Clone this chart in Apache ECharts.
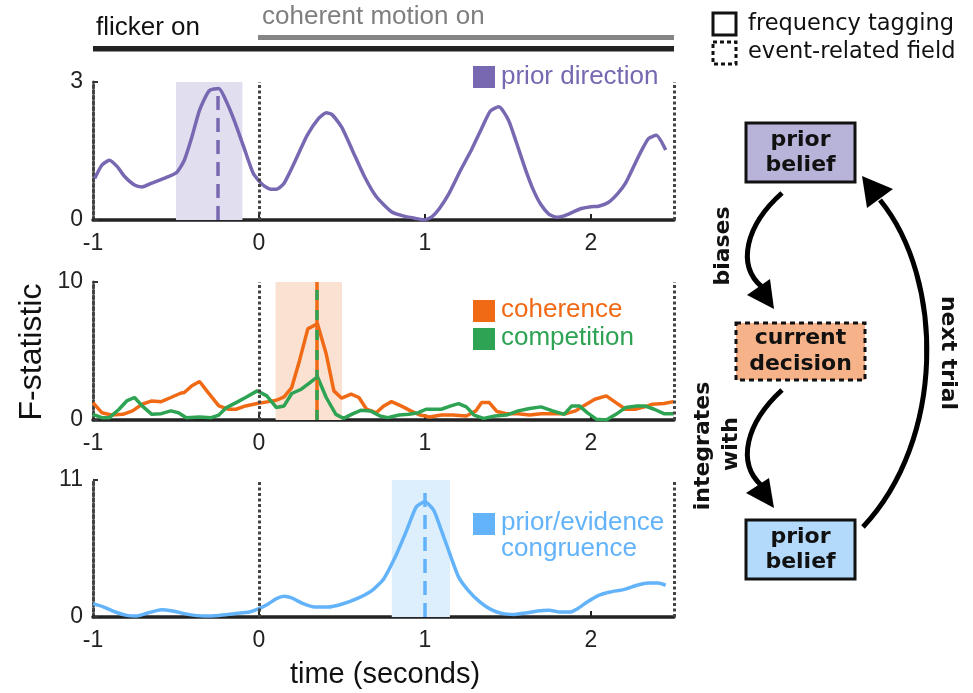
<!DOCTYPE html>
<html><head><meta charset="utf-8">
<script src="https://cdn.jsdelivr.net/npm/echarts@6/dist/echarts.min.js"></script>
<style>html,body{margin:0;padding:0;background:#fff}#c{width:973px;height:693px}</style>
</head><body><div id="c"></div>
<script>
// ---------- data ----------
const xTickValues = [-1, 0, 1, 2];
const yMaxes = [3, 10, 11];

const priorTime = [-0.99,-0.947,-0.901,-0.854,-0.808,-0.75,-0.704,-0.646,-0.554,-0.496,-0.45,-0.404,-0.358,-0.3,-0.242,-0.196,-0.15,-0.092,-0.034,0.024,0.07,0.105,0.151,0.22,0.29,0.359,0.405,0.44,0.498,0.567,0.636,0.706,0.798,0.867,0.937,0.994,1.041,1.087,1.145,1.214,1.283,1.341,1.394,1.445,1.503,1.549,1.607,1.653,1.699,1.746,1.792,1.838,1.896,1.942,2.0,2.046,2.104,2.162,2.208,2.266,2.3,2.346,2.393,2.45];
const priorVals = [0.90,1.19,1.30,1.16,0.94,0.76,0.72,0.80,0.93,1.03,1.30,1.81,2.39,2.81,2.86,2.57,2.17,1.59,1.01,0.76,0.67,0.67,0.80,1.30,1.84,2.21,2.33,2.29,2.02,1.48,0.94,0.51,0.18,0.09,0.04,0.0,0.07,0.25,0.58,1.08,1.55,1.99,2.37,2.46,2.17,1.70,1.08,0.65,0.33,0.13,0.06,0.09,0.18,0.25,0.29,0.30,0.38,0.58,0.80,1.23,1.48,1.77,1.84,1.52];

const cohTime = [-1,-0.947,-0.889,-0.82,-0.762,-0.704,-0.646,-0.589,-0.531,-0.473,-0.45,-0.404,-0.358,-0.311,-0.242,-0.184,-0.138,-0.081,-0.011,0.058,0.105,0.151,0.197,0.244,0.294,0.352,0.405,0.451,0.498,0.555,0.602,0.648,0.706,0.752,0.798,0.856,0.914,0.971,1.029,1.098,1.168,1.249,1.306,1.341,1.387,1.434,1.491,1.561,1.63,1.699,1.769,1.85,1.907,1.954,2.023,2.092,2.15,2.208,2.266,2.323,2.37,2.439,2.497];
const cohVals = [1.26,0.53,0.36,0.41,0.66,1.14,1.38,1.33,1.63,1.94,1.99,2.48,2.79,2.06,1.02,0.78,0.78,1.02,1.19,1.33,1.43,1.67,2.35,4.3,6.6,6.97,4.78,2.11,1.58,1.87,1.63,0.78,0.53,1.02,1.33,1.02,0.66,0.36,0.22,0.36,0.36,0.29,0.66,1.26,1.26,0.61,0.46,0.46,0.36,0.46,0.46,0.46,0.66,1.02,1.5,1.75,1.26,0.78,0.78,0.95,1.14,1.19,1.33];

const compTime = [-1,-0.947,-0.901,-0.843,-0.797,-0.75,-0.704,-0.646,-0.589,-0.531,-0.485,-0.438,-0.358,-0.288,-0.242,-0.196,-0.138,-0.081,-0.011,0.047,0.105,0.151,0.197,0.255,0.301,0.352,0.405,0.463,0.509,0.567,0.613,0.671,0.729,0.775,0.844,0.902,0.96,1.006,1.098,1.156,1.202,1.249,1.295,1.353,1.422,1.491,1.561,1.63,1.699,1.769,1.838,1.884,1.93,1.977,2.034,2.092,2.15,2.208,2.277,2.323,2.381,2.439,2.497];
const compVals = [0.41,0.17,0.17,0.78,1.38,1.63,1.02,0.41,0.46,0.66,0.53,0.17,0.22,0.17,0.36,0.9,1.26,1.63,2.11,1.75,0.9,1.02,1.92,2.23,2.65,3.13,1.63,0.41,0.12,0.46,0.7,0.66,0.29,0.17,0.36,0.41,0.53,0.78,0.78,1.02,1.19,0.95,0.36,0.12,0.29,0.36,0.66,0.83,0.95,0.66,0.41,1.02,1.02,0.53,0.05,0.0,0.41,0.9,1.02,1.02,0.78,0.46,0.46];

const congTime = [-1,-0.935,-0.866,-0.797,-0.739,-0.67,-0.589,-0.519,-0.427,-0.334,-0.242,-0.15,-0.058,0,0.058,0.105,0.151,0.197,0.266,0.336,0.416,0.497,0.59,0.682,0.752,0.821,0.89,0.948,0.999,1.052,1.098,1.156,1.202,1.26,1.33,1.399,1.468,1.538,1.607,1.676,1.746,1.815,1.873,1.919,1.977,2.046,2.115,2.196,2.277,2.346,2.404,2.45];
const congVals = [1.07,0.8,0.4,0.13,0.08,0.32,0.59,0.48,0.21,0.08,0.13,0.27,0.4,0.67,1.07,1.47,1.66,1.53,1.07,0.8,0.8,1.02,1.47,2.14,3.08,4.83,6.97,8.85,9.25,8.58,6.97,4.83,3.22,2.14,1.21,0.59,0.27,0.21,0.32,0.48,0.54,0.4,0.4,0.67,1.21,1.74,2.01,2.2,2.55,2.73,2.73,2.55];

// highlighted windows [start, end] and peak-marker [time, top]
const priorWindow = [-0.5, -0.1];  const priorPeak = [-0.25, 2.86];
const cohWindow = [0.1, 0.5];      const cohPeak = [0.35, 10];
const congWindow = [0.8, 1.15];    const congPeak = [1.0, 10.2];
const onsetTimes = [0, 2.5];

// ---------- build ----------
const zip = (t, v) => t.slice(0, Math.min(t.length, v.length)).map((x, i) => [x, v[i]]);
const SANS = "'Liberation Sans', Arial, Helvetica, sans-serif";
const DV = "'DejaVu Sans', Verdana, sans-serif";
const C = {
  purple: '#7868B2', purpleShade: '#E1DEEF',
  orange: '#F06A16', orangeShade: '#FBE1D1',
  green: '#2EA354',
  blue: '#63B3FA', blueShade: '#DDEEFC'
};
const LW = 3.5;
const DOT = {color: '#444', width: 3, type: [3, 2.5]};
const gridPos = [{top: 82, height: 138}, {top: 282, height: 138}, {top: 480, height: 137}];

function dottedLines() {
  return onsetTimes.map(t => ({xAxis: t, lineStyle: DOT}));
}
function peakLine(p, color, type) {
  const ls = {color: color, width: LW, type: type};
  return [{coord: [p[0], 0], lineStyle: ls}, {coord: [p[0], p[1]], lineStyle: ls}];
}
function mk(data) {
  return {silent: true, symbol: ['none', 'none'], label: {show: false}, animation: false, data: data};
}

const chart = echarts.init(document.getElementById('c'), null, {renderer: 'canvas'});
const option = {
  animation: false,
  backgroundColor: '#fff',
  grid: gridPos.map(g => ({left: 93, right: 299, top: g.top, height: g.height})),
  xAxis: gridPos.map((g, i) => ({
    gridIndex: i, type: 'value', min: -1, max: 2.5, interval: 1,
    axisLine: {show: true, onZero: false, lineStyle: {color: '#222', width: 3.5}},
    axisTick: {show: true, inside: true, length: 6, customValues: [0, 1, 2], lineStyle: {color: '#222', width: 2}},
    axisLabel: {fontSize: 23, color: '#222', margin: 12, fontFamily: SANS, customValues: xTickValues,
      formatter: v => Number.isInteger(v) ? String(v) : ''},
    splitLine: {show: false}
  })),
  yAxis: yMaxes.map((m, i) => ({
    gridIndex: i, type: 'value', min: 0, max: m, interval: m,
    axisLine: {show: true, onZero: false, lineStyle: DOT},
    axisTick: {show: true, inside: true, length: 5, lineStyle: {color: '#333', width: 2}},
    axisLabel: {fontSize: 23, color: '#222', margin: 10, fontFamily: SANS},
    splitLine: {show: false}
  })),
  series: [
    {type: 'line', name: 'prior direction', xAxisIndex: 0, yAxisIndex: 0, data: zip(priorTime, priorVals),
     showSymbol: false, smooth: 0.2, lineStyle: {color: C.purple, width: LW}, itemStyle: {color: C.purple},
     markArea: {silent: true, itemStyle: {color: C.purpleShade}, data: [[{xAxis: priorWindow[0]}, {xAxis: priorWindow[1]}]]},
     markLine: mk(dottedLines().concat([peakLine(priorPeak, C.purple, [14, 8])]))},
    {type: 'line', name: 'coherence', xAxisIndex: 1, yAxisIndex: 1, data: zip(cohTime, cohVals),
     showSymbol: false, lineStyle: {color: C.orange, width: LW}, itemStyle: {color: C.orange},
     markArea: {silent: true, itemStyle: {color: C.orangeShade}, data: [[{xAxis: cohWindow[0]}, {xAxis: cohWindow[1]}]]},
     markLine: mk(dottedLines().concat([peakLine(cohPeak, C.orange, 'solid')]))},
    {type: 'line', name: 'competition', xAxisIndex: 1, yAxisIndex: 1, data: zip(compTime, compVals),
     showSymbol: false, lineStyle: {color: C.green, width: LW}, itemStyle: {color: C.green},
     markLine: mk([peakLine(cohPeak, C.green, [10, 10])])},
    {type: 'line', name: 'prior/evidence congruence', xAxisIndex: 2, yAxisIndex: 2, data: zip(congTime, congVals),
     showSymbol: false, smooth: 0.2, lineStyle: {color: C.blue, width: LW}, itemStyle: {color: C.blue},
     markArea: {silent: true, itemStyle: {color: C.blueShade}, data: [[{xAxis: congWindow[0]}, {xAxis: congWindow[1]}]]},
     markLine: mk(dottedLines().concat([peakLine(congPeak, C.blue, [14, 8])]))}
  ],
  graphic: [
    // stimulus bars
    {type: 'rect', shape: {x: 93, y: 46, width: 581, height: 5.5}, style: {fill: '#222'}},
    {type: 'rect', shape: {x: 258, y: 35, width: 416, height: 5}, style: {fill: '#858585'}},
    {type: 'text', x: 96, y: 27.5, style: {text: 'flicker on', fontSize: 26, fontFamily: SANS, fill: '#111', align: 'left', verticalAlign: 'middle'}},
    {type: 'text', x: 262, y: 17, style: {text: 'coherent motion on', fontSize: 26, fontFamily: SANS, fill: '#7f7f7f', align: 'left', verticalAlign: 'middle'}},
    // panel legends
    {type: 'rect', shape: {x: 473, y: 66, width: 22, height: 22}, style: {fill: C.purple}},
    {type: 'text', x: 501, y: 77, style: {text: 'prior direction', fontSize: 26, fontFamily: SANS, fill: C.purple, verticalAlign: 'middle'}},
    {type: 'rect', shape: {x: 473, y: 300, width: 22, height: 22}, style: {fill: C.orange}},
    {type: 'text', x: 501, y: 310, style: {text: 'coherence', fontSize: 26, fontFamily: SANS, fill: C.orange, verticalAlign: 'middle'}},
    {type: 'rect', shape: {x: 473, y: 328, width: 22, height: 22}, style: {fill: C.green}},
    {type: 'text', x: 501, y: 338, style: {text: 'competition', fontSize: 26, fontFamily: SANS, fill: C.green, verticalAlign: 'middle'}},
    {type: 'rect', shape: {x: 473, y: 513, width: 22, height: 22}, style: {fill: C.blue}},
    {type: 'text', x: 501, y: 522.5, style: {text: 'prior/evidence', fontSize: 26, fontFamily: SANS, fill: C.blue, verticalAlign: 'middle'}},
    {type: 'text', x: 501, y: 549, style: {text: 'congruence', fontSize: 26, fontFamily: SANS, fill: C.blue, verticalAlign: 'middle'}},
    // axis titles
    {type: 'text', x: 32, y: 352, rotation: Math.PI / 2, style: {text: 'F-statistic', fontSize: 32, fontFamily: SANS, fill: '#111', align: 'center', verticalAlign: 'middle'}},
    {type: 'text', x: 385, y: 675, style: {text: 'time (seconds)', fontSize: 29, fontFamily: SANS, fill: '#111', align: 'center', verticalAlign: 'middle'}},
    // box-type legend
    {type: 'rect', shape: {x: 713, y: 13, width: 23, height: 22}, style: {fill: 'none', stroke: '#111', lineWidth: 3}},
    {type: 'rect', shape: {x: 713, y: 42, width: 23, height: 22}, style: {fill: 'none', stroke: '#111', lineWidth: 3, lineDash: [4, 3]}},
    {type: 'text', x: 748, y: 24, style: {text: 'frequency tagging', fontSize: 22.5, fontFamily: DV, fill: '#111', verticalAlign: 'middle'}},
    {type: 'text', x: 748, y: 52, style: {text: 'event-related field', fontSize: 22.5, fontFamily: DV, fill: '#111', verticalAlign: 'middle'}},
    // diagram boxes
    {type: 'rect', shape: {x: 746, y: 123, width: 109, height: 59}, style: {fill: '#B8B3D9', stroke: '#111', lineWidth: 3}},
    {type: 'text', x: 800.5, y: 140, style: {text: 'prior', fontSize: 22, fontWeight: 'bold', fontFamily: DV, fill: '#111', align: 'center', verticalAlign: 'middle'}},
    {type: 'text', x: 800.5, y: 165, style: {text: 'belief', fontSize: 22, fontWeight: 'bold', fontFamily: DV, fill: '#111', align: 'center', verticalAlign: 'middle'}},
    {type: 'rect', shape: {x: 736, y: 323, width: 129, height: 57}, style: {fill: '#F6B38A', stroke: '#111', lineWidth: 3, lineDash: [5, 4]}},
    {type: 'text', x: 800.5, y: 338, style: {text: 'current', fontSize: 22, fontWeight: 'bold', fontFamily: DV, fill: '#111', align: 'center', verticalAlign: 'middle'}},
    {type: 'text', x: 800.5, y: 364, style: {text: 'decision', fontSize: 22, fontWeight: 'bold', fontFamily: DV, fill: '#111', align: 'center', verticalAlign: 'middle'}},
    {type: 'rect', shape: {x: 746, y: 520, width: 109, height: 59}, style: {fill: '#B4DAFB', stroke: '#111', lineWidth: 3}},
    {type: 'text', x: 800.5, y: 537, style: {text: 'prior', fontSize: 22, fontWeight: 'bold', fontFamily: DV, fill: '#111', align: 'center', verticalAlign: 'middle'}},
    {type: 'text', x: 800.5, y: 562, style: {text: 'belief', fontSize: 22, fontWeight: 'bold', fontFamily: DV, fill: '#111', align: 'center', verticalAlign: 'middle'}},
    // arrows
    {type: 'bezierCurve', shape: {x1: 782, y1: 193, cpx1: 746, cpy1: 225, cpx2: 736, cpy2: 265, x2: 762, y2: 287}, style: {stroke: '#000', lineWidth: 5, fill: null}},
    {type: 'polygon', shape: {points: [[774, 309], [747, 295], [770, 279]]}, style: {fill: '#000'}},
    {type: 'bezierCurve', shape: {x1: 782, y1: 390, cpx1: 746, cpy1: 423, cpx2: 736, cpy2: 463, x2: 762, y2: 486}, style: {stroke: '#000', lineWidth: 5, fill: null}},
    {type: 'polygon', shape: {points: [[774, 508], [746, 493], [769, 478]]}, style: {fill: '#000'}},
    {type: 'bezierCurve', shape: {x1: 863, y1: 527, cpx1: 945, cpy1: 440, cpx2: 945, cpy2: 280, x2: 880, y2: 200}, style: {stroke: '#000', lineWidth: 5, fill: null}},
    {type: 'polygon', shape: {points: [[862, 176], [867, 208], [893, 189]]}, style: {fill: '#000'}},
    // arrow labels
    {type: 'text', x: 723, y: 246, rotation: Math.PI / 2, style: {text: 'biases', fontSize: 22, fontWeight: 'bold', fontFamily: DV, fill: '#111', align: 'center', verticalAlign: 'middle'}},
    {type: 'text', x: 703, y: 446, rotation: Math.PI / 2, style: {text: 'integrates', fontSize: 22, fontWeight: 'bold', fontFamily: DV, fill: '#111', align: 'center', verticalAlign: 'middle'}},
    {type: 'text', x: 731, y: 444, rotation: Math.PI / 2, style: {text: 'with', fontSize: 22, fontWeight: 'bold', fontFamily: DV, fill: '#111', align: 'center', verticalAlign: 'middle'}},
    {type: 'text', x: 948, y: 353, rotation: -Math.PI / 2, style: {text: 'next trial', fontSize: 22, fontWeight: 'bold', fontFamily: DV, fill: '#111', align: 'center', verticalAlign: 'middle'}}
  ]
};
chart.setOption(option);
</script>
</body></html>
